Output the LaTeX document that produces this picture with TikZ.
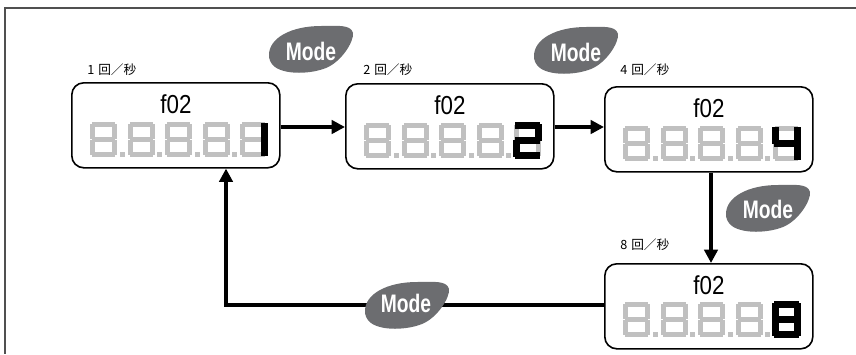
\documentclass[tikz,border=0pt]{standalone}
\usepackage{fontspec}
\setmainfont{Liberation Sans}
\newfontfamily\modefont[FakeStretch=0.76]{Liberation Sans}
\newfontfamily\codefont[FakeStretch=0.86]{Liberation Sans}
\newfontfamily\jpfont{Noto Sans CJK JP}
\usetikzlibrary{arrows.meta}

\definecolor{lcdoff}{RGB}{192,192,192}
\definecolor{lcdon}{RGB}{0,0,0}
\definecolor{modegray}{RGB}{108,109,112}
\definecolor{framegray}{RGB}{80,80,80}

\newcommand{\segall}{2/0/25/5,22/2/27/17,22/18/27/33,2/30/25/35,0/18/5/33,0/2/5/17,2/15/25/20}
\newcommand{\segone}{22/2/27/17,22/18/27/33}
\newcommand{\segtwo}{2/0/25/5,22/2/27/17,2/15/25/20,0/18/5/33,2/30/25/35}
\newcommand{\segfour}{0/2/5/17,2/15/25/20,22/2/27/17,22/18/27/33}

\newcommand{\lcdrow}[3]{%
  \begin{scope}[shift={(#1,#2)}]
    \foreach \k in {0,...,4}{
      \foreach \xa/\ya/\xb/\yb in \segall
        \fill[lcdoff] (37.5*\k+\xa,\ya) rectangle (37.5*\k+\xb,\yb);
    }
    \foreach \k in {0,...,3}
      \fill[lcdoff] (37.5*\k+29.5,30) rectangle (37.5*\k+34.5,35);
    \foreach \xa/\ya/\xb/\yb in #3
      \filldraw[lcdon,line width=0.8pt] (150+\xa,\ya) rectangle (150+\xb,\yb);
  \end{scope}}

\begin{document}
\begin{tikzpicture}[x=0.75pt,y=-0.75pt,
  lcd/.style={draw,line width=1.2pt,rounded corners=9pt,minimum width=156pt,minimum height=63.75pt,anchor=north west,inner sep=0pt},
  code/.style={font=\codefont\fontsize{19.5}{19.5}\selectfont,inner sep=0pt},
  rate/.style={font=\jpfont\fontsize{9.5}{10}\selectfont,anchor=west,inner sep=0pt},
  modetext/.style={font=\modefont\bfseries\fontsize{19}{19}\selectfont,text=white,inner sep=0pt},
  flow/.style={-{Triangle[length=10pt,width=10pt]},line width=2.8pt},
  modeblob/.pic={\fill[modegray] (-42,5) .. controls (-42,-12) and (-20,-24) .. (10,-24) .. controls (25,-24) and (40,-26) .. (42,-17) .. controls (43,-8) and (30,12) .. (15,18) .. controls (0,24) and (-25,25) .. (-36,17) .. controls (-41,13) and (-42,9) .. (-42,5) -- cycle;}]

\useasboundingbox (0,0) rectangle (856,354);
\draw[framegray,line width=1pt] (856,8) -- (5,8) -- (5,354);

\node[lcd] (hz1) at (71,82) {};
\node[lcd] (hz2) at (345,83) {};
\node[lcd] (hz3) at (604,86) {};
\node[lcd] (hz4) at (604,263) {};

\node[code] (code1) at (176,104) {f02};
\node[code] (code2) at (450,105) {f02};
\node[code] (code3) at (709,108) {f02};
\node[code] (code4) at (709,285) {f02};

\lcdrow{90}{122}{\segone}
\lcdrow{364}{123}{\segtwo}
\lcdrow{623}{126}{\segfour}
\lcdrow{623}{302}{\segall}

\node[rate] (rate1) at (87,70) {1\hspace{3pt}回／秒};
\node[rate] (rate2) at (363,70) {2\hspace{3pt}回／秒};
\node[rate] (rate3) at (620,70) {4\hspace{3pt}回／秒};
\node[rate] (rate4) at (620,245) {8\hspace{3pt}回／秒};

\draw[flow] (hz1.east |- 0,127) -- (hz2.west |- 0,127);
\draw[flow] (hz2.east |- 0,127) -- (hz3.west |- 0,127);
\draw[flow] (hz3.south -| 711,0) -- (hz4.north -| 711,0);
\draw[flow] (hz4.west |- 0,305) -| (hz1.south -| 226,0);

\pic at (311,50) {modeblob};
\pic at (576,51) {modeblob};
\pic at (768,209) {modeblob};
\pic at (407,306) {modeblob};
\node[modetext] (mode1) at (311,51) {Mode};
\node[modetext] (mode2) at (576,52) {Mode};
\node[modetext] (mode3) at (768,209) {Mode};
\node[modetext] (mode4) at (406,303) {Mode};
\end{tikzpicture}
\end{document}
